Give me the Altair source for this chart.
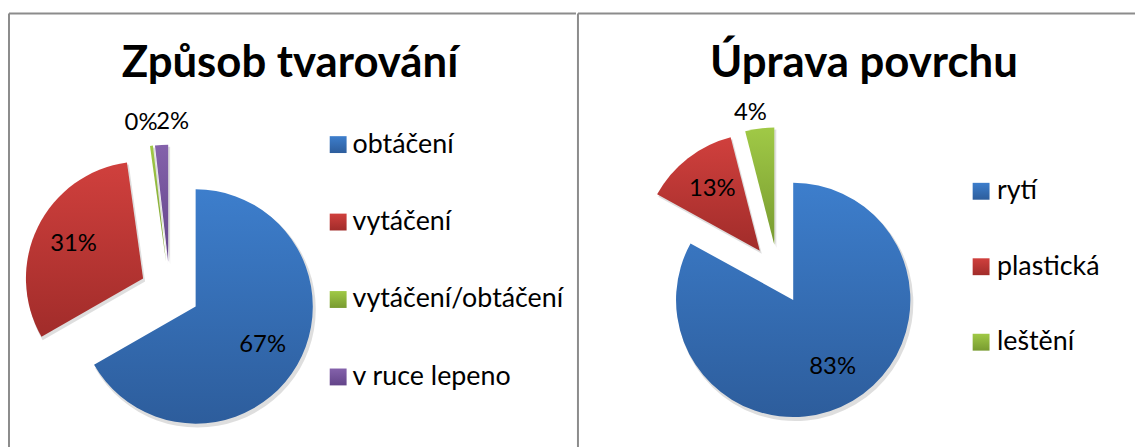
import math
import altair as alt
import pandas as pd

# ---- data -------------------------------------------------------------
left_title = "Způsob tvarování"
left_cats = ["obtáčení", "vytáčení", "vytáčení/obtáčení", "v ruce lepeno"]
left_vals = [66.7, 31.1, 0.4, 1.8]

right_title = "Úprava povrchu"
right_cats = ["rytí", "plastická", "leštění"]
right_vals = [83, 13, 4]

# ---- style ------------------------------------------------------------
PALETTE = [
    ("#3d7ecc", "#2d5d9c"),  # blue
    ("#d0403d", "#a12c2a"),  # red
    ("#a0c946", "#789b30"),  # green
    ("#8462ab", "#634489"),  # purple
]
FONT = "Lato"
BORDER = "#8c8c8c"
R = 118        # pie radius
EXPL = 30      # explosion distance
R_IN = 108     # inside label radius (from true centre)


def grad(top, bottom):
    return alt.LinearGradient(
        gradient="linear", x1=0, y1=0, x2=0, y2=1,
        stops=[alt.GradientStop(color=top, offset=0),
               alt.GradientStop(color=bottom, offset=1)],
    )


def panel(title, cats, vals, width, height, cx, cy, r_out, title_x, title_y,
          leg_sq_x, leg_txt_x, leg_y0, leg_step):
    df = pd.DataFrame({"cat": cats, "val": vals, "order": list(range(len(cats)))})
    base = (
        alt.Chart(df)
        .transform_joinaggregate(total="sum(val)")
        .transform_calculate(frac="datum.val / datum.total")
        .transform_window(cum="sum(val)", sort=[alt.SortField("order")])
        .transform_window(prevfrac="lag(frac)", sort=[alt.SortField("order")])
        .transform_calculate(
            t1="100 * datum.cum / datum.total",
            t0="100 * (datum.cum - datum.val) / datum.total",
        )
        .transform_calculate(
            mid="PI * (datum.t0 + datum.t1) / 100",
            outside="datum.frac < 0.05",
        )
        .transform_calculate(
            ax=f"{cx} + {EXPL} * sin(datum.mid)",
            ay=f"{cy} - {EXPL} * cos(datum.mid)",
            la="datum.outside ? datum.mid - PI * 2.5 / 180 : datum.mid",
            lr=f"datum.outside ? {r_out} : {R_IN}",
        )
        .transform_calculate(
            sx="datum.ax + 2", sy="datum.ay + 3",
            lx=f"{cx} + datum.lr * sin(datum.la) + (datum.outside && datum.prevfrac < 0.05 ? 20 : 0)",
            ly=f"{cy} - datum.lr * cos(datum.la)",
            legy=f"{leg_y0} + datum.order * {leg_step}",
        )
    )
    theta = alt.Theta("t0:Q", scale=alt.Scale(domain=[0, 100], range=[0, 2 * math.pi]))
    theta2 = alt.Theta2("t1:Q")

    one = pd.DataFrame({"t": [title]})
    top_rule = alt.Chart(one).mark_rule(color=BORDER, strokeWidth=2).encode(
        x=alt.value(0), x2=alt.value(width + 2), y=alt.value(0))
    left_rule = alt.Chart(one).mark_rule(color=BORDER, strokeWidth=2).encode(
        x=alt.value(0), y=alt.value(0), y2=alt.value(height + 10))

    shadow = base.mark_arc(outerRadius=R + 1, fill="#000000", opacity=0.13).encode(
        x=alt.X("sx:Q", scale=None), y=alt.Y("sy:Q", scale=None),
        theta=theta, theta2=theta2,
    )
    layers = [top_rule, left_rule, shadow]
    for i, c in enumerate(cats):
        g = grad(*PALETTE[i])
        sub = base.transform_filter(alt.datum.order == i)
        layers.append(
            sub.mark_arc(outerRadius=R, fill=g).encode(
                x=alt.X("ax:Q", scale=None), y=alt.Y("ay:Q", scale=None),
                theta=theta, theta2=theta2,
            )
        )
        layers.append(
            sub.mark_square(size=289, fill=g, opacity=1).encode(
                x=alt.value(leg_sq_x), y=alt.Y("legy:Q", scale=None),
            )
        )
    labels = base.mark_text(font=FONT, fontSize=24, color="#000000",
                            align="center", baseline="middle").encode(
        x=alt.X("lx:Q", scale=None), y=alt.Y("ly:Q", scale=None),
        text=alt.Text("frac:Q", format=".0%"),
    )
    legend_text = base.mark_text(font=FONT, fontSize=27, color="#000000",
                                 align="left", baseline="middle").encode(
        x=alt.value(leg_txt_x), y=alt.Y("legy:Q", scale=None),
        text="cat:N",
    )
    ttl = alt.Chart(one).mark_text(
        font=FONT, fontSize=44, fontWeight="bold", color="#000000",
        align="center", baseline="alphabetic",
    ).encode(x=alt.value(title_x), y=alt.value(title_y), text="t:N")
    layers += [labels, legend_text, ttl]
    return alt.layer(*layers).properties(width=width, height=height)


left = panel(left_title, left_cats, left_vals, 569, 428,
             162, 280, 172, 283, 64, 331.5, 346, 132, 78)
right = panel(right_title, right_cats, right_vals, 559, 428,
              201.5, 262.6, 165, 288, 64, 406, 422, 179, 76)

chart = (
    alt.hconcat(left, right, spacing=0)
    .properties(padding={"left": 0, "top": 3, "right": 0, "bottom": 0},
                background="white")
    .configure_view(stroke=None, fill="white")
)

chart.save("out.html", embed_options={"renderer": "svg", "actions": False})
